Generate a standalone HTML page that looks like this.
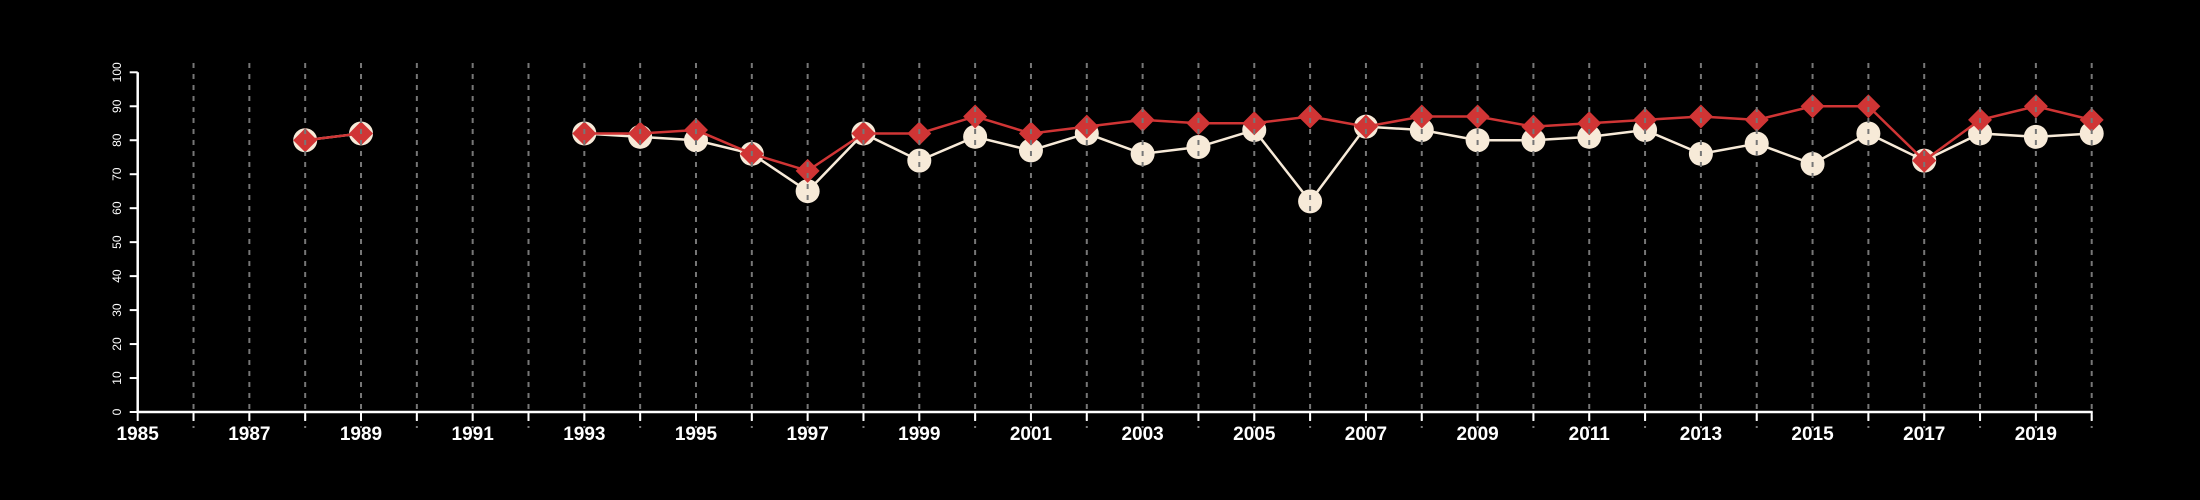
<!DOCTYPE html>
<html><head><meta charset="utf-8"><style>
html,body{margin:0;padding:0;background:#000;}
svg{display:block;}
text{font-family:"Liberation Sans",Arial,sans-serif;fill:#fff;}
</style></head><body>
<svg id="chart" width="2200" height="500" viewBox="0 0 2200 500" xmlns="http://www.w3.org/2000/svg">
<rect width="2200" height="500" fill="#000"/>
<g id="series"></g>
<g id="grid"></g>
<g id="axes"></g>
</svg>
<script>
const years = [1988,1989,1990,1991,1992,1993,1994,1995,1996,1997,1998,1999,2000,2001,2002,2003,2004,2005,2006,2007,2008,2009,2010,2011,2012,2013,2014,2015,2016,2017,2018,2019,2020];
const seriesCircle = [80,82,null,null,null,82,81,80,76,65,82,74,81,77,82,76,78,83,62,84,83,80,80,81,83,76,79,73,82,74,82,81,82];
const seriesDiamond = [80,82,null,null,null,82,82,83,76,71,82,82,87,82,84,86,85,85,87,84,87,87,84,85,86,87,86,90,90,74,86,90,86];
const yTicks = [0,10,20,30,40,50,60,70,80,90,100];
const xLabelYears = [1985,1987,1989,1991,1993,1995,1997,1999,2001,2003,2005,2007,2009,2011,2013,2015,2017,2019];
const xMin = 1985, xMax = 2020, yMin = 0, yMax = 100;

const NS = "http://www.w3.org/2000/svg";
const X0 = 137.7, X1 = 2091.7, Y0 = 412, Y1 = 72.3;
function xs(v){ return X0 + (v - xMin) / (xMax - xMin) * (X1 - X0); }
function ys(v){ return Y0 - (v - yMin) / (yMax - yMin) * (Y0 - Y1); }
function mk(tag, attrs, parent){
  const e = document.createElementNS(NS, tag);
  for (const k in attrs) e.setAttribute(k, attrs[k]);
  parent.appendChild(e);
  return e;
}
const gS = document.getElementById('series');
const gG = document.getElementById('grid');
const gA = document.getElementById('axes');

function segments(vals){
  const segs = []; let cur = [];
  vals.forEach((v,i)=>{ if(v==null){ if(cur.length) segs.push(cur); cur=[]; } else cur.push([xs(years[i]), ys(v)]); });
  if(cur.length) segs.push(cur);
  return segs;
}
segments(seriesCircle).forEach(s=>{
  const p = mk('polyline',{points:s.map(q=>q.join(',')).join(' '),fill:'none',stroke:'#f7ead8','stroke-width':2.5},gS);
  
  
});
seriesCircle.forEach((v,i)=>{
  if(v==null) return;
  const c = mk('circle',{cx:xs(years[i]),cy:ys(v),r:12,fill:'#f7ead8'},gS);
  
  
});
segments(seriesDiamond).forEach(s=>{
  const p = mk('polyline',{points:s.map(q=>q.join(',')).join(' '),fill:'none',stroke:'#d03535','stroke-width':2.5},gS);
  
  
});
seriesDiamond.forEach((v,i)=>{
  if(v==null) return;
  const x = xs(years[i]), y = ys(v), d = 12;
  const p = mk('polygon',{points:`${x},${y-d} ${x+d},${y} ${x},${y+d} ${x-d},${y}`,fill:'#d03535'},gS);
  
  
});
for(let yr = xMin+1; yr <= xMax; yr++){
  const l = mk('line',{x1:xs(yr),x2:xs(yr),y1:63,y2:428,stroke:'#777','stroke-width':2,'stroke-dasharray':'5,6'},gG);
  
  
}
const ya = mk('line',{x1:X0,x2:X0,y1:Y1,y2:Y0+1,stroke:'#fff','stroke-width':2.5},gA);


const xa = mk('line',{x1:X0-1,x2:X1+1,y1:Y0,y2:Y0,stroke:'#fff','stroke-width':2.5},gA);


yTicks.forEach(t=>{
  const l = mk('line',{x1:X0-8,x2:X0,y1:ys(t),y2:ys(t),stroke:'#fff','stroke-width':2},gA);
  
  
  const tx = mk('text',{x:0,y:0,'font-size':12,'text-anchor':'middle',transform:`translate(121,${ys(t)}) rotate(-90)`},gA);
  tx.textContent = t;
  
  
});
for(let yr = xMin; yr <= xMax; yr++){
  const l = mk('line',{x1:xs(yr),x2:xs(yr),y1:Y0,y2:Y0+9,stroke:'#fff','stroke-width':2},gA);
  
  
}
xLabelYears.forEach(yr=>{
  const tx = mk('text',{x:xs(yr),y:440,'font-size':19,'font-weight':'bold','text-anchor':'middle'},gA);
  tx.textContent = yr;
  
  
});
</script>
</body></html>
